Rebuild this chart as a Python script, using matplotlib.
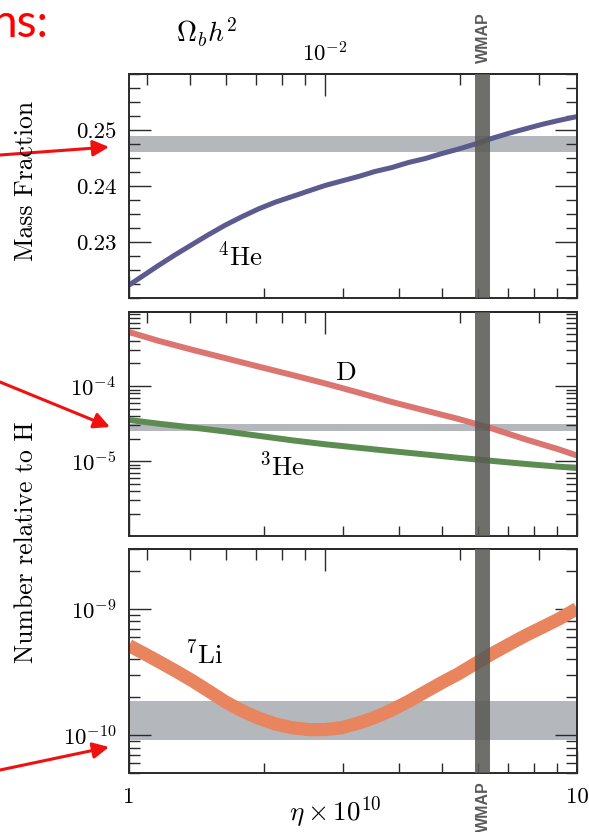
import numpy as np
import matplotlib
matplotlib.use("Agg")
import matplotlib.pyplot as plt
from matplotlib.ticker import FixedLocator, NullFormatter, MultipleLocator, LogLocator
from matplotlib.patches import FancyArrowPatch

plt.rcParams["font.family"] = "serif"
plt.rcParams["font.serif"] = ["cmr10"]
plt.rcParams["mathtext.fontset"] = "cm"
plt.rcParams["axes.formatter.use_mathtext"] = True

# values (x is eta * 1e10)
eta_he4 = [1.0, 1.067, 1.163, 1.267, 1.380, 1.504, 1.639, 1.785, 1.945, 2.119, 2.309, 2.515,
           2.741, 2.985, 3.253, 3.544, 3.862, 4.207, 4.583, 4.994, 5.440, 5.927, 6.458, 7.036,
           7.664, 8.350, 9.099, 10.0]
yp_he4 = [0.2223, 0.2238, 0.2258, 0.2277, 0.2295, 0.2313, 0.2330, 0.2345, 0.2359, 0.2371,
          0.2381, 0.2391, 0.2401, 0.2409, 0.2417, 0.2426, 0.2433, 0.2442, 0.2449, 0.2458,
          0.2466, 0.2475, 0.2485, 0.2494, 0.2502, 0.2510, 0.2517, 0.2524]

eta_li = eta_he4
li_h = [5.15e-10, 4.56e-10, 3.86e-10, 3.26e-10, 2.73e-10, 2.25e-10, 1.85e-10, 1.57e-10,
        1.37e-10, 1.23e-10, 1.15e-10, 1.11e-10, 1.11e-10, 1.15e-10, 1.25e-10, 1.39e-10,
        1.59e-10, 1.86e-10, 2.21e-10, 2.62e-10, 3.08e-10, 3.70e-10, 4.43e-10, 5.24e-10,
        6.17e-10, 7.17e-10, 8.34e-10, 1.01e-9]

eta_dhe3 = [1.0, 1.163, 1.380, 1.639, 1.945, 2.309, 2.741, 3.253, 3.862, 4.583, 5.440,
            6.458, 7.664, 9.099, 10.0]
d_h = [5.25e-4, 4.01e-4, 3.06e-4, 2.36e-4, 1.82e-4, 1.41e-4, 1.085e-4, 8.2e-5, 6.14e-5,
       4.73e-5, 3.65e-5, 2.73e-5, 1.96e-5, 1.44e-5, 1.19e-5]
he3_h = [3.54e-5, 3.16e-5, 2.82e-5, 2.49e-5, 2.18e-5, 1.90e-5, 1.68e-5, 1.51e-5, 1.36e-5,
         1.23e-5, 1.11e-5, 1.01e-5, 9.2e-6, 8.46e-6, 8.12e-6]

# observed bands
he4_band = [0.2461, 0.2490]
d_band = [2.49e-5, 3.13e-5]
li_band = [9.2e-11, 1.87e-10]
wmap_band = [5.93, 6.40]

omega_major = [0.01]
omega_minor = [0.004, 0.005, 0.006, 0.007, 0.008, 0.009, 0.02, 0.03]
eta_minor = [2, 3, 4, 5, 6, 7, 8, 9]

ETA_PER_OMEGA = 273.9

C_HE4 = "#5b5b8f"
C_D = "#dc7470"
C_HE3 = "#5c8c52"
C_LI = "#e8855f"
C_BAND = "#b4b7bc"
C_WMAP = "#5a5a55"
C_AX = "#2a2a2a"
TICK_FS = 16.5


def eta_to_omega(e):
    return np.asarray(e) / ETA_PER_OMEGA


def omega_to_eta(o):
    return np.asarray(o) * ETA_PER_OMEGA


fig = plt.figure(figsize=(5.89, 8.32), dpi=100)
W, H = 589.0, 832.0


def make_axes(top, bottom):
    ax = fig.add_axes([129 / W, 1 - bottom / H, 448 / W, (bottom - top) / H])
    ax.set_xscale("log")
    ax.set_xlim(1, 10)
    ax.xaxis.set_major_locator(FixedLocator([1, 10]))
    ax.xaxis.set_minor_locator(FixedLocator(eta_minor))
    ax.xaxis.set_minor_formatter(NullFormatter())
    ax.tick_params(axis="x", which="both", direction="in", top=False, bottom=True,
                   color=C_AX, width=1.0, labelsize=TICK_FS, pad=10)
    ax.tick_params(axis="x", which="major", length=16)
    ax.tick_params(axis="x", which="minor", length=7)
    ax.tick_params(axis="y", which="both", direction="in", left=True, right=True,
                   color=C_AX, width=1.0, labelsize=TICK_FS, pad=9)
    ax.tick_params(axis="y", which="major", length=16)
    ax.tick_params(axis="y", which="minor", length=8)
    for s in ax.spines.values():
        s.set_linewidth(1.4)
        s.set_color(C_AX)
    ax.axvspan(wmap_band[0], wmap_band[1], color=C_WMAP, alpha=0.88, lw=0, zorder=3)

    sec = ax.secondary_xaxis("top", functions=(eta_to_omega, omega_to_eta))
    sec.xaxis.set_major_locator(FixedLocator(omega_major))
    sec.xaxis.set_minor_locator(FixedLocator(omega_minor))
    sec.xaxis.set_minor_formatter(NullFormatter())
    sec.tick_params(which="both", direction="in", color=C_AX, width=1.0,
                    labelsize=TICK_FS, pad=6)
    sec.tick_params(which="major", length=16)
    sec.tick_params(which="minor", length=8)
    sec.spines["top"].set_linewidth(1.4)
    sec.spines["top"].set_color(C_AX)
    return ax, sec


ax1, sec1 = make_axes(74, 298)
ax2, sec2 = make_axes(312, 536.3)
ax3, sec3 = make_axes(549, 773.3)

sec1.set_xticks(omega_major, labels=[r"$10^{-2}$"])
sec2.set_xticks(omega_major, labels=[""])
sec3.set_xticks(omega_major, labels=[""])
ax1.set_xticklabels(["", ""])
ax2.set_xticklabels(["", ""])
ax3.set_xticklabels(["1", "10"])

# panel 1: helium-4 mass fraction
ax1.set_ylim(0.22, 0.26)
ax1.axhspan(he4_band[0], he4_band[1], color=C_BAND, lw=0, zorder=1)
ax1.plot(eta_he4, yp_he4, color=C_HE4, lw=3.6, solid_capstyle="butt", zorder=2)
ax1.set_yticks([0.23, 0.24, 0.25], labels=["0.23", "0.24", "0.25"])
ax1.yaxis.set_minor_locator(MultipleLocator(0.0025))
ax1.text(1.77, 0.2275, r"$^4$He", fontsize=19.5, ha="center", va="center")

# panel 2: D and helium-3
ax2.set_yscale("log")
ax2.set_ylim(1.0e-6, 9.7e-4)
ax2.axhspan(d_band[0], d_band[1], color=C_BAND, lw=0, zorder=1)
ax2.plot(eta_dhe3, d_h, color=C_D, lw=4.3, solid_capstyle="butt", zorder=2)
ax2.plot(eta_dhe3, he3_h, color=C_HE3, lw=4.3, solid_capstyle="butt", zorder=2)
ax2.set_yticks([1e-5, 1e-4], labels=[r"$10^{-5}$", r"$10^{-4}$"])
ax2.yaxis.set_minor_locator(LogLocator(base=10, subs=np.arange(2, 10), numticks=50))
ax2.yaxis.set_minor_formatter(NullFormatter())
ax2.text(3.04, 1.51e-4, "D", fontsize=19.5, ha="center", va="center")
ax2.text(2.20, 8.65e-6, r"$^3$He", fontsize=19.5, ha="center", va="center")

# panel 3: lithium-7
ax3.set_yscale("log")
ax3.set_ylim(5e-11, 3e-9)
ax3.axhspan(li_band[0], li_band[1], color=C_BAND, lw=0, zorder=1)
ax3.plot(eta_li, li_h, color=C_LI, lw=9.5, solid_capstyle="butt", zorder=2)
ax3.set_yticks([1e-10, 1e-9], labels=[r"$10^{-10}$", r"$10^{-9}$"])
ax3.yaxis.set_minor_locator(LogLocator(base=10, subs=np.arange(2, 10), numticks=50))
ax3.yaxis.set_minor_formatter(NullFormatter())
ax3.text(1.47, 4.45e-10, r"$^7$Li", fontsize=19.5, ha="center", va="center")

# axis titles
fig.text(26 / W, 1 - 181 / H, "Mass Fraction", rotation=90, fontsize=18.5,
         ha="center", va="center")
fig.text(26 / W, 1 - 542 / H, "Number relative to H", rotation=90, fontsize=18.5,
         ha="center", va="center")
fig.text(207 / W, 1 - 32 / H, r"$\Omega_b h^2$", fontsize=20, ha="center", va="center")
fig.text(335 / W, 1 - 812 / H, r"$\eta \times 10^{10}$", fontsize=19.5,
         ha="center", va="center")

for yc in (38, 807):
    fig.text(483 / W, 1 - yc / H, "WMAP", rotation=90, fontsize=11.5,
             fontweight="bold", color="#5a5a5a", family="Liberation Sans",
             ha="center", va="center")

# slide overlay: clipped heading and red arrows
fig.text(49 / W, 1 - 37 / H, "ns:", color="#ff0000", fontsize=33, family="Lato",
         ha="right", va="baseline")
arrows = [((0, 155), (109, 147)), ((0, 382), (110, 427)), ((0, 770), (109, 747))]
for (x0, y0), (x1, y1) in arrows:
    fig.add_artist(FancyArrowPatch((x0 / W, 1 - y0 / H), (x1 / W, 1 - y1 / H),
                                   transform=fig.transFigure, color="#f01010",
                                   lw=2.2, arrowstyle="-|>,head_length=0.6,head_width=0.3",
                                   mutation_scale=16, shrinkA=0, shrinkB=0))

fig.savefig("out.png", dpi=100)
